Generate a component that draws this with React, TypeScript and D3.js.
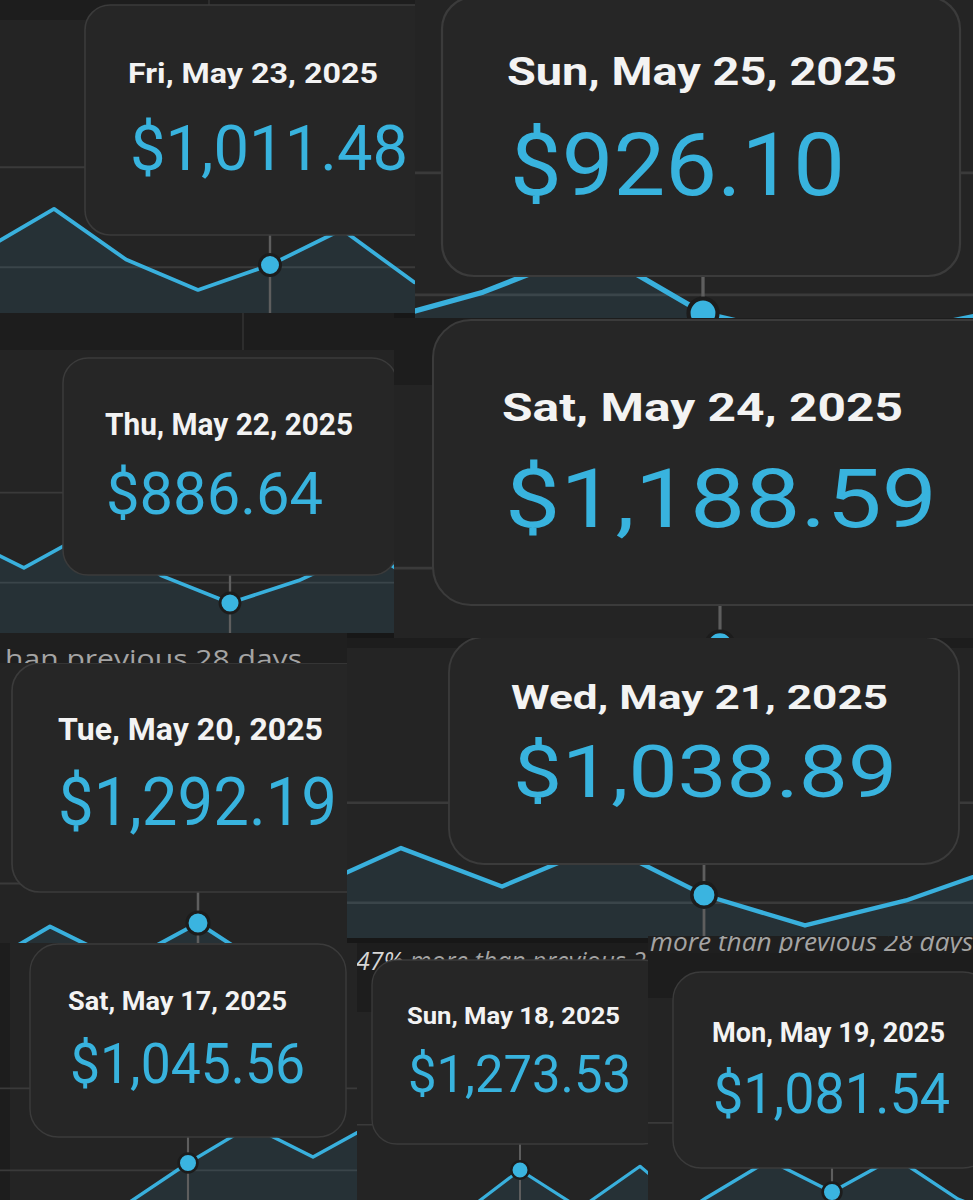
import React from "react";
import * as d3 from "d3";

// ---- data ----
const dates = [
  "2025-05-14", "2025-05-15", "2025-05-16", "2025-05-17", "2025-05-18",
  "2025-05-19", "2025-05-20", "2025-05-21", "2025-05-22", "2025-05-23",
  "2025-05-24", "2025-05-25", "2025-05-26", "2025-05-27", "2025-05-28",
];
const revenue = [
  800, 760, 790, 1045.56, 1273.53, 1081.54, 1292.19, 1038.89, 886.64, 1011.48,
  1188.59, 926.1, 820, 870, 960,
];
const gridValues = [500, 1000, 1500];
const captionA = "han previous 28 days";
const captionB1 = "47%";
const captionB2 = " more than previous 2";
const captionC = "more than previous 28 days";

// ---- layout (screenshot crops of the same chart with its tooltip) ----
type Panel = {
  id: string;
  focus: string;
  clip: [number, number, number, number];
  header: number;
  leftBand?: number;
  dividers?: number[];
  px: number;
  py: number;
  dx: number;
  ky: number;
  s: number;
  box: [number, number, number, number, number];
  dateT: [number, number, number, number];
  valueT: [number, number, number, number];
};

const panels: Panel[] = [
  { id: "A", focus: "2025-05-23", clip: [0, 0, 415, 313], header: 20, dividers: [209], px: 270, py: 265, dx: 72, ky: 0.2, s: 1,
    box: [85, 5, 370, 230, 25], dateT: [128, 83, 28, 250], valueT: [130, 170, 63, 278] },
  { id: "B", focus: "2025-05-25", clip: [415, 0, 558, 318], header: 0, px: 703, py: 313, dx: 110, ky: 0.244, s: 1.38,
    box: [442, -3, 518, 279, 32], dateT: [507, 85, 39, 390], valueT: [510, 195, 87, 335] },
  { id: "C", focus: "2025-05-22", clip: [0, 313, 394, 320], header: 350, dividers: [243], px: 230, py: 603, dx: 68.7, ky: 0.18, s: 0.95,
    box: [63, 358, 334, 217, 25], dateT: [105, 435, 31, 248], valueT: [106, 514, 60, 217] },
  { id: "D", focus: "2025-05-24", clip: [394, 318, 579, 320], header: 385, px: 720, py: 645, dx: 110, ky: 0.247, s: 1.3,
    box: [433, 320, 580, 285, 38], dateT: [502, 421, 39, 401], valueT: [505, 527, 82, 432] },
  { id: "E", focus: "2025-05-20", clip: [0, 663, 347, 280], header: 663, px: 198, py: 923, dx: 74, ky: 0.19, s: 1.05,
    box: [12, 663, 372, 229, 28], dateT: [58, 740, 31, 265], valueT: [58, 825, 66, 279] },
  { id: "F", focus: "2025-05-21", clip: [347, 638, 626, 300], header: 648, px: 704, py: 895, dx: 101, ky: 0.2, s: 1.16,
    box: [449, 637, 510, 227, 35], dateT: [511, 709, 34, 377], valueT: [513, 797, 73, 384] },
  { id: "G", focus: "2025-05-17", clip: [0, 943, 357, 257], header: 943, leftBand: 10, px: 188, py: 1163, dx: 62.5, ky: 0.164, s: 0.89,
    box: [30, 944, 316, 193, 28], dateT: [68, 1010, 25, 219], valueT: [70, 1083, 56, 235] },
  { id: "H", focus: "2025-05-18", clip: [357, 943, 291, 257], header: 1012, px: 520, py: 1170, dx: 60, ky: 0.2, s: 0.83,
    box: [372, 960, 296, 184, 25], dateT: [407, 1024, 24, 213], valueT: [408, 1092, 52, 223] },
  { id: "I", focus: "2025-05-19", clip: [648, 953, 325, 247], header: 998, px: 832, py: 1192, dx: 63, ky: 0.165, s: 0.89,
    box: [673, 972, 318, 196, 28], dateT: [712, 1042, 27, 233], valueT: [713, 1113, 56, 237] },
];

const C = {
  page: "#171717",
  header: "#1d1d1d",
  chart: "#242424",
  boxFill: "#262626",
  boxStroke: "#3b3b3b",
  grid: "#3a3a3a",
  area: "rgba(60,165,215,0.10)",
  line: "#39b0dd",
  dot: "#3ab4e0",
  hover: "#5e5e5e",
  dateText: "#f3f3f3",
  valueText: "#38b3de",
  caption: "#a4a4a4",
};

const parse = d3.timeParse("%Y-%m-%d");
const fmtDate = d3.timeFormat("%a, %b %-d, %Y");
const fmtValue = d3.format("$,.2f");
const rows = dates.map((d, i) => ({ date: parse(d) as Date, value: revenue[i] }));

function PanelView({ p, underBox }: { p: Panel; underBox?: React.ReactNode }) {
  const [cx, cy, cw, ch] = p.clip;
  const focusDate = parse(p.focus) as Date;
  const focusRow = rows.find((r) => +r.date === +focusDate)!;
  const x = d3.scaleTime().domain([focusDate, d3.timeDay.offset(focusDate, 1)]).range([p.px, p.px + p.dx]);
  const y = d3.scaleLinear().domain([focusRow.value, focusRow.value + 100]).range([p.py, p.py - 100 * p.ky]);
  const bottom = cy + ch + 40;
  const area = d3.area<any>().x((d) => x(d.date)).y0(bottom).y1((d) => y(d.value))(rows) || "";
  const line = d3.line<any>().x((d) => x(d.date)).y((d) => y(d.value))(rows) || "";
  const [bx, by, bw, bh, br] = p.box;
  const chartTop = Math.max(p.header, cy);
  return (
    <g clipPath={`url(#clip-${p.id})`}>
      <rect x={cx} y={cy} width={cw} height={ch} fill={C.chart} />
      {p.header > cy && <rect x={cx} y={cy} width={cw} height={p.header - cy} fill={C.header} />}
      {p.leftBand && <rect x={cx} y={cy} width={p.leftBand - cx} height={ch} fill={C.header} />}
      {(p.dividers || []).map((dv) => (
        <line key={dv} x1={dv} x2={dv} y1={cy} y2={p.header} stroke="#333" strokeWidth={1.5} />
      ))}
      {gridValues.map((g) => {
        const gy = y(g);
        if (gy < chartTop) return null;
        return <line key={g} x1={cx} x2={cx + cw} y1={gy} y2={gy} stroke={C.grid} strokeWidth={2 * p.s} />;
      })}
      <path d={area} fill={C.area} />
      <path d={line} fill="none" stroke={C.line} strokeWidth={3.8 * p.s} strokeLinejoin="round" />
      <line x1={p.px} x2={p.px} y1={by + bh} y2={bottom} stroke={C.hover} strokeWidth={2.4 * p.s} />
      <circle cx={x(focusRow.date)} cy={y(focusRow.value)} r={10.5 * p.s} fill={C.dot} stroke="#1c1c1c" strokeWidth={3 * p.s} />
      {underBox}
      <rect x={bx} y={by} width={bw} height={bh} rx={br} ry={br} fill={C.boxFill} stroke={C.boxStroke} strokeWidth={1.6 * p.s} />
      <text x={p.dateT[0]} y={p.dateT[1]} fontSize={p.dateT[2]} fontWeight={700} fill={C.dateText}
        textLength={p.dateT[3]} lengthAdjust="spacingAndGlyphs" fontFamily="Roboto, 'Noto Sans', sans-serif">
        {fmtDate(focusRow.date)}
      </text>
      <text x={p.valueT[0]} y={p.valueT[1]} fontSize={p.valueT[2]} fontWeight={400} fill={C.valueText}
        textLength={p.valueT[3]} lengthAdjust="spacingAndGlyphs" fontFamily="Roboto, 'Noto Sans', sans-serif">
        {fmtValue(focusRow.value)}
      </text>
    </g>
  );
}

export default function App() {
  const first = panels.filter((p) => ["A", "B", "C", "D", "E", "F"].includes(p.id));
  const G = panels.find((p) => p.id === "G")!;
  const H = panels.find((p) => p.id === "H")!;
  const I = panels.find((p) => p.id === "I")!;
  return (
    <svg width={973} height={1200} style={{ position: "absolute", left: 0, top: 0, display: "block" }}
      fontFamily="Roboto, sans-serif">
      <defs>
        {panels.map((p) => (
          <clipPath id={`clip-${p.id}`} key={p.id}>
            <rect x={p.clip[0]} y={p.clip[1]} width={p.clip[2]} height={p.clip[3]} />
          </clipPath>
        ))}
        <clipPath id="clip-capA"><rect x={0} y={633} width={347} height={30} /></clipPath>
        <clipPath id="clip-capC"><rect x={648} y={936} width={325} height={17} /></clipPath>
      </defs>
      <rect x={0} y={0} width={973} height={1200} fill={C.page} />
      {first.map((p) => <PanelView key={p.id} p={p} />)}
      <g clipPath="url(#clip-capA)">
        <rect x={0} y={633} width={347} height={30} fill="#1f1f1f" />
        <text x={5} y={668} fontSize={26} fill={C.caption} textLength={297} lengthAdjust="spacingAndGlyphs"
          fontFamily="'Open Sans', sans-serif">{captionA}</text>
      </g>
      <g clipPath="url(#clip-capC)">
        <rect x={648} y={936} width={325} height={17} fill="#1f1f1f" />
        <text x={650} y={951} fontSize={26} fontStyle="italic" fill={C.caption} textLength={323} lengthAdjust="spacingAndGlyphs"
          fontFamily="'Open Sans', sans-serif">{captionC}</text>
      </g>
      <PanelView p={G} />
      <PanelView p={I} />
      <PanelView p={H} underBox={
        <text x={356} y={970} fontSize={26} fontStyle="italic" fill={C.caption} textLength={290} lengthAdjust="spacingAndGlyphs"
          fontFamily="'Open Sans', sans-serif">
          <tspan fill="#d6d6d6">{captionB1}</tspan>
          <tspan>{captionB2}</tspan>
        </text>
      } />
    </svg>
  );
}
